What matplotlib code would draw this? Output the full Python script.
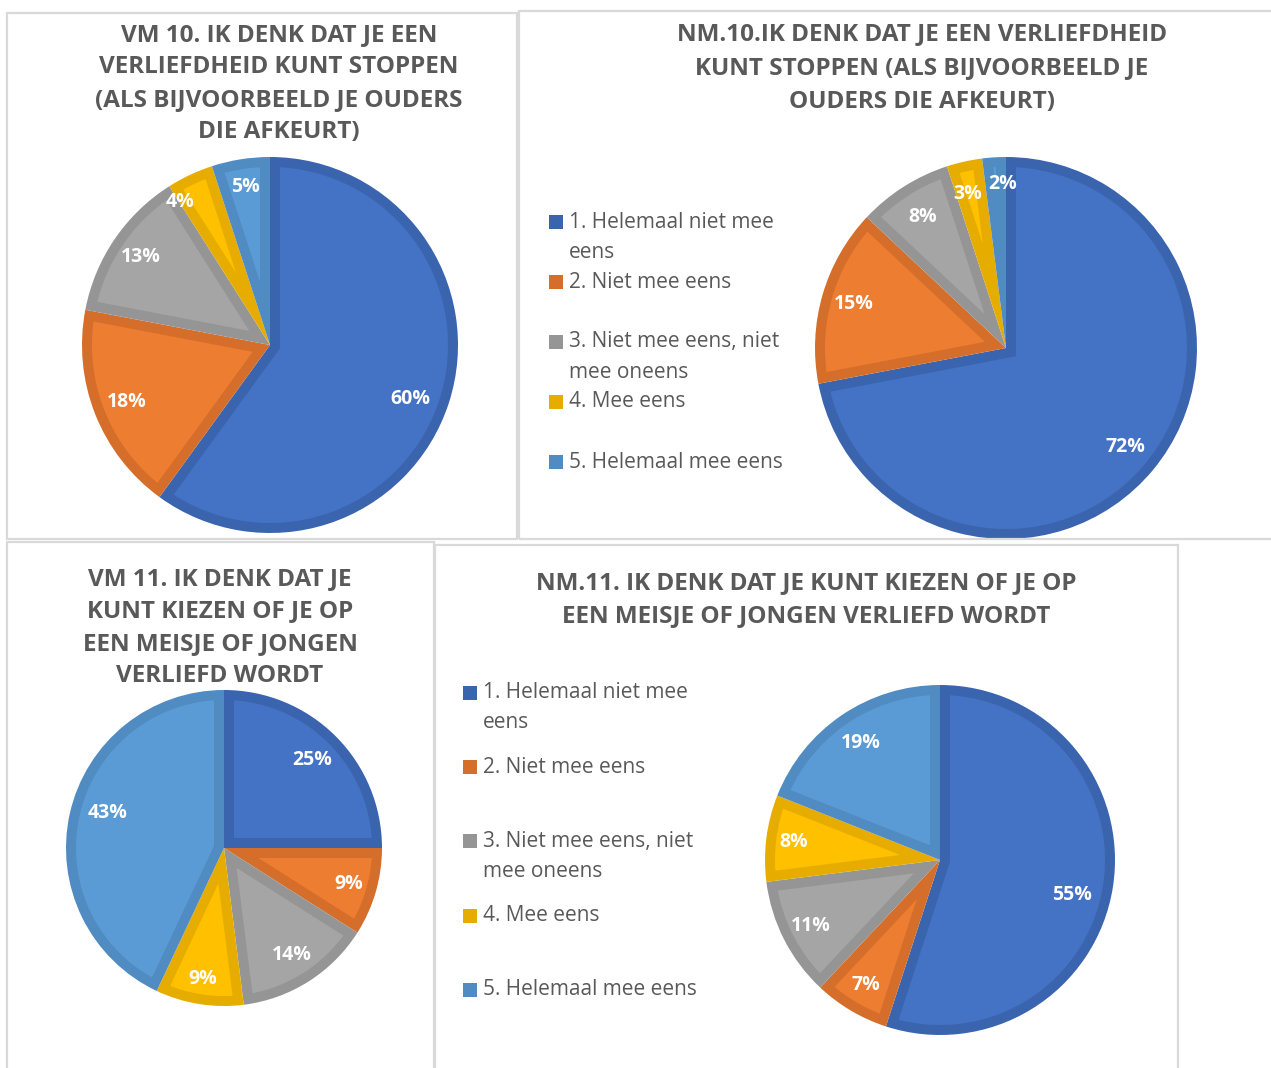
import numpy as np
import matplotlib
matplotlib.use('Agg')
import matplotlib.pyplot as plt
from matplotlib.patches import Rectangle, Polygon

plt.rcParams['font.family'] = ['Open Sans', 'DejaVu Sans']

W, H = 1271, 1068

# answer categories (same for all four charts)
legend_labels = ["1. Helemaal niet mee\neens", "2. Niet mee eens",
                 "3. Niet mee eens, niet\nmee oneens", "4. Mee eens",
                 "5. Helemaal mee eens"]

vm10_title = "VM 10. IK DENK DAT JE EEN\nVERLIEFDHEID KUNT STOPPEN\n(ALS BIJVOORBEELD JE OUDERS\nDIE AFKEURT)"
vm10_pct = [60, 18, 13, 4, 5]

nm10_title = "NM.10.IK DENK DAT JE EEN VERLIEFDHEID\nKUNT STOPPEN (ALS BIJVOORBEELD JE\nOUDERS DIE AFKEURT)"
nm10_pct = [72, 15, 8, 3, 2]

vm11_title = "VM 11. IK DENK DAT JE\nKUNT KIEZEN OF JE OP\nEEN MEISJE OF JONGEN\nVERLIEFD WORDT"
vm11_pct = [25, 9, 14, 9, 43]

nm11_title = "NM.11. IK DENK DAT JE KUNT KIEZEN OF JE OP\nEEN MEISJE OF JONGEN VERLIEFD WORDT"
nm11_pct = [55, 7, 11, 8, 19]

faces = ['#4472C4', '#ED7D31', '#A5A5A5', '#FFC000', '#5B9BD5']
edges = ['#3B64AF', '#D56E2B', '#959595', '#E6AD00', '#508CC2']
title_color = '#595959'
border_color = '#D9D9D9'
band_px = 10  # width of the darker inner outline of each slice

fig = plt.figure(figsize=(W / 100, H / 100), dpi=100)


def fx(x):
    return x / W


def fy(y):
    return 1 - y / H


def panel(x0, y0, x1, y1):
    fig.add_artist(Rectangle((fx(x0), fy(y1)), (x1 - x0) / W, (y1 - y0) / H,
                             transform=fig.transFigure, fill=False,
                             edgecolor=border_color, linewidth=1.6))


def title(text, x, y, step):
    for i, line in enumerate(text.split('\n')):
        fig.text(fx(x), fy(y + i * step), line, ha='center', va='center',
                 fontsize=17.5, fontweight='bold', color=title_color)


def inset(theta1, theta2, t):
    # slice shrunk by t on every side (inner part without the outline)
    th1, th2 = np.deg2rad(theta1), np.deg2rad(theta2)
    rho = 1 - t
    dl = np.arcsin(t / rho)
    p1, p2 = th1 + dl, th2 - dl
    half = (th2 - th1) / 2
    if p2 <= p1:
        return None
    d = t / np.sin(half)
    if d >= rho:
        return None
    bis = (th1 + th2) / 2
    arc = np.linspace(p1, p2, 120)
    xs = np.concatenate([[d * np.cos(bis)], rho * np.cos(arc)])
    ys = np.concatenate([[d * np.sin(bis)], rho * np.sin(arc)])
    return np.column_stack([xs, ys])


def pie(values, cx, cy, r, dist, shift):
    ax = fig.add_axes([fx(cx - r), fy(cy + r), 2 * r / W, 2 * r / H])
    wedges, _ = ax.pie(values, colors=edges, startangle=90, counterclock=False,
                       wedgeprops=dict(linewidth=0))
    t = band_px / r
    for w, fc in zip(wedges, faces):
        pts = inset(w.theta1, w.theta2, t)
        if pts is not None:
            ax.add_patch(Polygon(pts, closed=True, facecolor=fc,
                                 edgecolor='none', zorder=2))
    for w, v, dd, sh in zip(wedges, values, dist, shift):
        a = np.deg2rad((w.theta1 + w.theta2) / 2 + sh)
        ax.text(dd * np.cos(a), dd * np.sin(a), f'{v}%', ha='center',
                va='center', color='white', fontsize=14, fontweight='bold',
                zorder=3)
    ax.set_xlim(-1, 1)
    ax.set_ylim(-1, 1)
    ax.axis('off')


def legend(x, y, step, line_step=30):
    for i, (lab, ec) in enumerate(zip(legend_labels, edges)):
        yy = y + i * step
        fig.add_artist(Rectangle((fx(x), fy(yy + 7)), 14 / W, 14 / H,
                                 transform=fig.transFigure, facecolor=ec,
                                 edgecolor='none'))
        for j, line in enumerate(lab.split('\n')):
            fig.text(fx(x + 20), fy(yy + j * line_step), line, ha='left',
                     va='center', fontsize=15, color=title_color)


# panel frames
panel(7, 13, 517, 539)
panel(519, 11, 1280, 539)
panel(7, 542, 434, 1080)
panel(435, 545, 1178, 1080)

# VM 10
title(vm10_title, 279, 35, 32.4)
pie(vm10_pct, 270, 345, 188,
    [0.8, 0.82, 0.83, 0.9, 0.85], [-3, 0, 0, 7, 0])

# NM 10
title(nm10_title, 922, 34, 34)
pie(nm10_pct, 1006, 348, 191,
    [0.81, 0.83, 0.81, 0.83, 0.86], [0, 0, 0, 1.5, -2.5])
legend(549, 222, 60)

# VM 11
title(vm11_title, 220, 579, 32.3)
pie(vm11_pct, 224, 848, 158,
    [0.79, 0.82, 0.8, 0.84, 0.77], [0, 0, 0, 0, -4])

# NM 11
title(nm11_title, 806, 583, 33)
pie(nm11_pct, 940, 860, 175,
    [0.78, 0.83, 0.83, 0.84, 0.81], [-6, 0, 0, 0, 0])
legend(463, 693, 74.2)

fig.savefig('out.png', dpi=100, facecolor='white')
